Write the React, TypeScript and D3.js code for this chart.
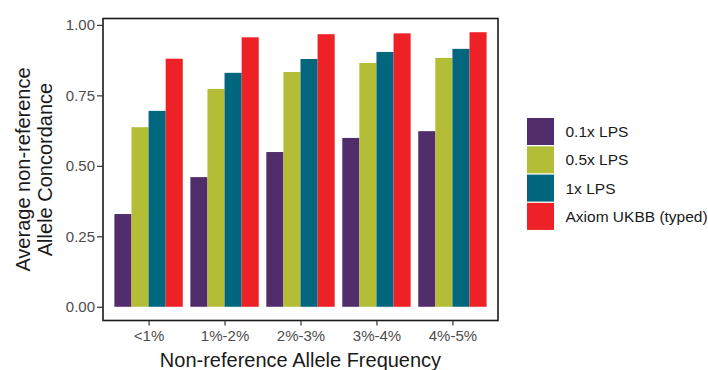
import React, { useRef, useEffect } from "react";
import * as d3 from "d3";

const GROUPS = ["<1%", "1%-2%", "2%-3%", "3%-4%", "4%-5%"];
const SERIES = ["0.1x LPS", "0.5x LPS", "1x LPS", "Axiom UKBB (typed)"];
const COLORS = ["#522d6b", "#b3bd35", "#02667f", "#ed2126"];
const VALUES = [
  [0.329, 0.46, 0.549, 0.599, 0.623], // 0.1x
  [0.637, 0.773, 0.833, 0.865, 0.883], // 0.5x
  [0.695, 0.83, 0.879, 0.904, 0.915], // 1x
  [0.88, 0.956, 0.967, 0.97, 0.974], // Axiom
];
const Y_TICKS = [0, 0.25, 0.5, 0.75, 1.0];

const W = 708, H = 370;
const FONT = "'Liberation Sans', Arial, sans-serif";

export default function App() {
  const svgRef = useRef<SVGSVGElement>(null);

  useEffect(() => {
    const svg = d3.select(svgRef.current);
    svg.selectAll("*").remove();

    const panel = { left: 103, right: 498, top: 18.5, bottom: 320.5 };
    const maxV = d3.max(VALUES.flat()) as number;
    const pad = maxV * 0.05;

    const y = d3.scaleLinear()
      .domain([-pad, maxV + pad])
      .range([panel.bottom, panel.top]);

    // ggplot-style discrete expansion of 0.6 on each side
    const step = (panel.right - panel.left) / (GROUPS.length - 1 + 1.2);
    const x = d3.scalePoint<string>()
      .domain(GROUPS)
      .range([panel.left + 0.6 * step, panel.right - 0.6 * step]);
    const groupW = step * 0.9;
    const xs = d3.scaleBand<string>()
      .domain(SERIES)
      .range([-groupW / 2, groupW / 2]);

    const bars = svg.append("g");
    SERIES.forEach((s, si) => {
      bars.selectAll(null)
        .data(VALUES[si])
        .join("rect")
        .attr("x", (_, i) => (x(GROUPS[i]) as number) + (xs(s) as number))
        .attr("y", d => y(d))
        .attr("width", xs.bandwidth())
        .attr("height", d => y(0) - y(d))
        .attr("fill", COLORS[si]);
    });

    // panel border
    svg.append("rect")
      .attr("x", panel.left)
      .attr("y", panel.top)
      .attr("width", panel.right - panel.left)
      .attr("height", panel.bottom - panel.top)
      .attr("fill", "none")
      .attr("stroke", "#1a1a1a")
      .attr("stroke-width", 1.6);

    // y axis
    svg.append("g")
      .attr("transform", `translate(${panel.left},0)`)
      .call(d3.axisLeft(y).tickValues(Y_TICKS).tickFormat(d3.format(".2f")).tickSize(6).tickPadding(2))
      .call(g => g.select(".domain").remove())
      .call(g => g.selectAll("line").attr("stroke", "#333").attr("stroke-width", 1.2))
      .selectAll("text")
      .style("font-size", "15px")
      .style("font-family", FONT)
      .style("fill", "#4d4d4d");

    // x axis
    svg.append("g")
      .attr("transform", `translate(0,${panel.bottom})`)
      .call(d3.axisBottom(x).tickSize(5).tickPadding(5))
      .call(g => g.select(".domain").remove())
      .call(g => g.selectAll("line").attr("stroke", "#333").attr("stroke-width", 1.2))
      .selectAll("text")
      .style("font-size", "15px")
      .style("font-family", FONT)
      .style("fill", "#4d4d4d");

    // axis titles
    svg.append("text")
      .attr("x", (panel.left + panel.right) / 2)
      .attr("y", 367)
      .attr("text-anchor", "middle")
      .style("font-size", "20px")
      .style("font-family", FONT)
      .style("fill", "#1a1a1a")
      .text("Non-reference Allele Frequency");

    const yt = svg.append("text")
      .attr("transform", `translate(30,${(panel.top + panel.bottom) / 2}) rotate(-90)`)
      .attr("text-anchor", "middle")
      .style("font-size", "20px")
      .style("font-family", FONT)
      .style("fill", "#1a1a1a");
    yt.append("tspan").attr("x", 0).attr("dy", 0).text("Average non-reference");
    yt.append("tspan").attr("x", 0).attr("dy", 22).text("Allele Concordance");

    // legend
    const legend = svg.append("g").attr("transform", "translate(527,118)");
    SERIES.forEach((s, i) => {
      legend.append("rect")
        .attr("x", 0)
        .attr("y", i * 28.3)
        .attr("width", 27)
        .attr("height", 27)
        .attr("fill", COLORS[i]);
      legend.append("text")
        .attr("x", 38.5)
        .attr("y", i * 28.3 + 13.5)
        .attr("dy", "0.35em")
        .style("font-size", "15.5px")
        .style("font-family", FONT)
        .style("fill", "#1a1a1a")
        .text(s);
    });
  }, []);

  return (
    <svg
      ref={svgRef}
      width={W}
      height={H}
      style={{ position: "absolute", left: 0, top: 0, background: "#fff", display: "block" }}
    />
  );
}
